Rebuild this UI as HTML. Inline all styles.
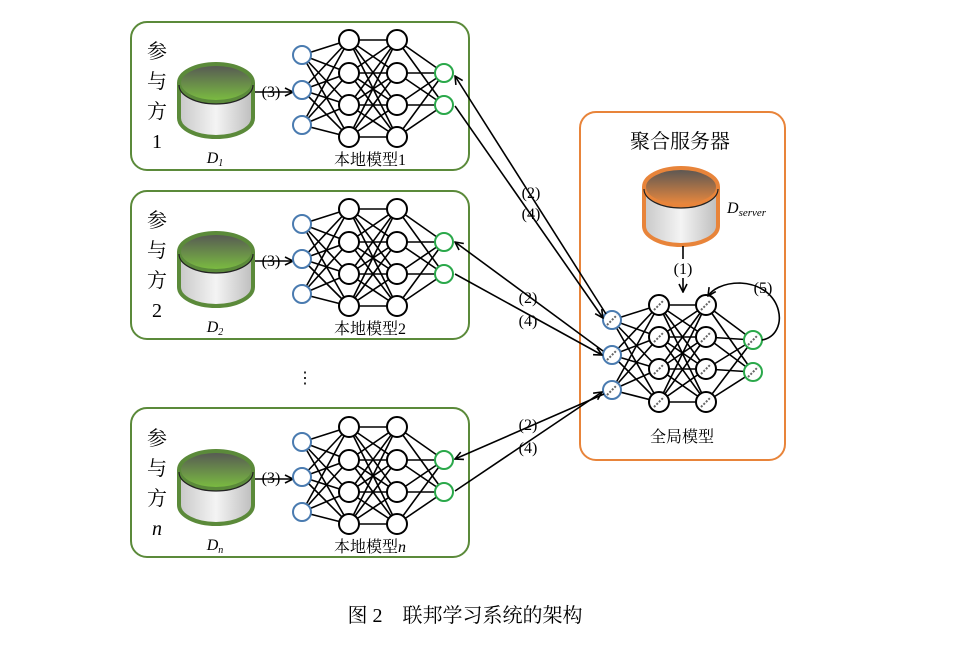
<!DOCTYPE html>
<html><head><meta charset="utf-8"><style>
body{margin:0;background:#fff;width:961px;height:640px;overflow:hidden}
svg text{font-family:"Liberation Serif","Noto Serif CJK SC",serif}
</style></head><body>
<svg id="s" width="961" height="640" xmlns="http://www.w3.org/2000/svg">
<defs>
<linearGradient id="gg" x1="0" y1="0" x2="0" y2="1"><stop offset="0" stop-color="#555"/><stop offset="1" stop-color="#7cc040"/></linearGradient>
<linearGradient id="og" x1="0" y1="0" x2="0" y2="1"><stop offset="0" stop-color="#555"/><stop offset="1" stop-color="#f08a3c"/></linearGradient>
<linearGradient id="sg" x1="0" y1="0" x2="1" y2="0"><stop offset="0" stop-color="#c8c8c8"/><stop offset="0.5" stop-color="#f4f4f4"/><stop offset="1" stop-color="#bdbdbd"/></linearGradient>
<marker id="ar" markerWidth="10" markerHeight="10" refX="9" refY="5" orient="auto" markerUnits="userSpaceOnUse"><path d="M1,1 L9,5 L1,9" fill="none" stroke="#000" stroke-width="1.6"/></marker>
</defs>
<rect x="131" y="22" width="338" height="148" rx="16" fill="#fff" stroke="#5b8a3a" stroke-width="2"/>
<rect x="131" y="191" width="338" height="148" rx="16" fill="#fff" stroke="#5b8a3a" stroke-width="2"/>
<rect x="131" y="408" width="338" height="149" rx="16" fill="#fff" stroke="#5b8a3a" stroke-width="2"/>
<rect x="580" y="112" width="205" height="348" rx="16" fill="#fff" stroke="#e8843a" stroke-width="2"/>
<g id="g"></g>
<g font-size="20" text-anchor="middle">
<text x="157" y="58">参</text><text x="157" y="88">与</text><text x="157" y="118">方</text><text x="157" y="148">1</text>
<text x="157" y="227">参</text><text x="157" y="257">与</text><text x="157" y="287">方</text><text x="157" y="317">2</text>
<text x="157" y="445">参</text><text x="157" y="475">与</text><text x="157" y="505">方</text><text x="157" y="535" font-style="italic">n</text>
<text x="680" y="148">聚合服务器</text>
</g>
<g font-size="16" text-anchor="middle">
<text x="370" y="165">本地模型1</text><text x="370" y="334">本地模型2</text><text x="370" y="552">本地模型<tspan font-style="italic">n</tspan></text>
<text x="682" y="442">全局模型</text>
<text x="215" y="163" font-style="italic">D<tspan font-size="10" dy="3">1</tspan></text>
<text x="215" y="332" font-style="italic">D<tspan font-size="10" dy="3">2</tspan></text>
<text x="215" y="550" font-style="italic">D<tspan font-size="10" dy="3">n</tspan></text>
<text x="271" y="97">(3)</text><text x="271" y="266">(3)</text><text x="271" y="483">(3)</text>
<text x="531" y="198">(2)</text><text x="531" y="219">(4)</text>
<text x="528" y="303">(2)</text><text x="528" y="326">(4)</text>
<text x="528" y="430">(2)</text><text x="528" y="453">(4)</text>
<text x="683" y="274">(1)</text><text x="763" y="293">(5)</text>
<text x="305" y="383">⋮</text>
</g>
<text x="727" y="213" font-size="16" font-style="italic">D<tspan font-size="11" dy="3">server</tspan></text>
<text x="465" y="622" font-size="20" text-anchor="middle">图 2　联邦学习系统的架构</text>
</svg>
<script>
var g=document.getElementById('g'),h='';
function L(a,b,c,d,m){h+='<line x1="'+a+'" y1="'+b+'" x2="'+c+'" y2="'+d+'" stroke="#000" stroke-width="1.6"'+(m?' marker-end="url(#ar)"':'')+'/>';}
function C(x,y,r,col,dash){h+='<circle cx="'+x+'" cy="'+y+'" r="'+r+'" fill="#fff" stroke="'+col+'" stroke-width="2"/>';if(dash)h+='<line x1="'+(x-5)+'" y1="'+(y+5)+'" x2="'+(x+5)+'" y2="'+(y-5)+'" stroke="#666" stroke-width="2" stroke-dasharray="2,1.5"/>';}
function cyl(cx,ty,by,grad,st){var rx=37,ry=19;h+='<path d="M'+(cx-rx)+','+ty+' L'+(cx-rx)+','+by+' A'+rx+','+ry+' 0 0 0 '+(cx+rx)+','+by+' L'+(cx+rx)+','+ty+'" fill="url(#sg)" stroke="'+st+'" stroke-width="4"/>';h+='<ellipse cx="'+cx+'" cy="'+ty+'" rx="'+rx+'" ry="'+ry+'" fill="url(#'+grad+')" stroke="'+st+'" stroke-width="4"/>';h+='<path d="M'+(cx-rx)+','+(ty+2)+' A'+rx+','+ry+' 0 0 0 '+(cx+rx)+','+(ty+2)+'" fill="none" stroke="#222" stroke-width="1.2"/>';}
function net(xs,ys,d){var c=[xs[0],xs[1],xs[2],xs[3]];var Y=[ys[0],ys[1],ys[1],ys[2]];
for(var k=0;k<3;k++)for(var i=0;i<Y[k].length;i++)for(var j=0;j<Y[k+1].length;j++)L(c[k],Y[k][i],c[k+1],Y[k+1][j]);
for(var k=0;k<4;k++)for(var i=0;i<Y[k].length;i++)C(c[k],Y[k][i],k==0||k==3?9:10,k==0?'#4a7bb0':k==3?'#2aa84a':'#000',d);}
[0,169,387].forEach(function(o){cyl(216,83+o,118+o,'gg','#5b8a3a');L(255,92+o,293,92+o,1);
net([302,349,397,444],[[55+o,90+o,125+o],[40+o,73+o,105+o,137+o],[73+o,105+o]],0);});
cyl(681,187,226,'og','#e8843a');
L(683,246,683,259);L(683,278,683,292,1);
net([612,659,706,753],[[320,355,390],[305,337,369,402],[340,372]],1);
h+='<path d="M762,340 C790,335 785,285 740,283 C722,283 712,290 708,296" fill="none" stroke="#000" stroke-width="1.6" marker-end="url(#ar)"/>';
L(606,314,455,76,1);L(455,106,603,318,1);
L(603,351,455,242,1);L(455,274,602,355,1);
L(604,394,455,459,1);L(455,491,602,392,1);
g.innerHTML=h;
</script>
</body></html>
